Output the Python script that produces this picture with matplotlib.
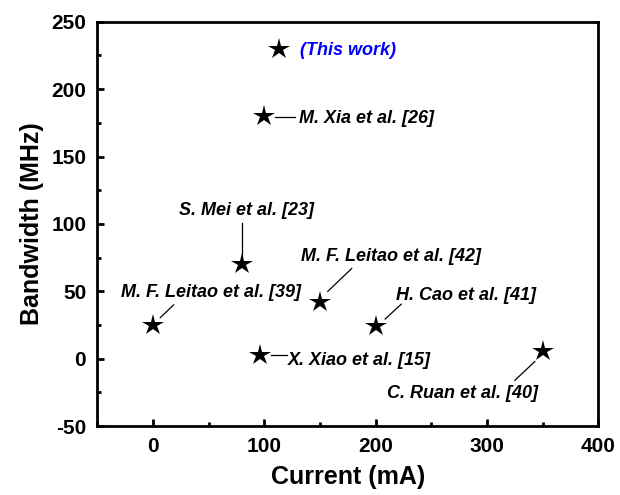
import matplotlib
matplotlib.use('Agg')
import matplotlib.pyplot as plt
from matplotlib.ticker import MultipleLocator

plt.rcParams['font.family'] = ['Liberation Sans', 'DejaVu Sans']
plt.rcParams['axes.unicode_minus'] = False

# data
refs = ['(This work)', 'M. Xia et al. [26]', 'S. Mei et al. [23]',
        'M. F. Leitao et al. [42]', 'M. F. Leitao et al. [39]',
        'H. Cao et al. [41]', 'X. Xiao et al. [15]', 'C. Ruan et al. [40]']
current = [113, 100, 80, 150, 0, 200, 96, 350]
bandwidth = [230, 180, 70, 42, 25, 24, 3, 6]

# label layout: text anchor (x, y), horizontal alignment, leader line ends
label_pos = [(132, 229), (131, 178), (84, 110), (214, 76),
             (52, 49), (281, 47), (121, -1), (278, -26)]
label_ha = ['left', 'left', 'center', 'center',
            'center', 'center', 'left', 'center']
leaders = [None,
           ((110, 128), (179.5, 179.5)),
           ((80, 80), (101, 76)),
           ((157, 178.5), (50, 67)),
           ((6.5, 18.5), (30.5, 40)),
           ((208.5, 223), (29.5, 40.5)),
           ((106, 120), (2.5, 2.5)),
           ((325, 343), (-16, -2))]


def main():
    fig = plt.figure(figsize=(6.2, 4.95), dpi=100)
    ax = fig.add_axes([0.157, 0.139, 0.808, 0.817])

    ax.plot(current, bandwidth, linestyle='none', marker='*',
            markersize=16, color='black', markeredgewidth=0)

    for i, name in enumerate(refs):
        color = 'blue' if i == 0 else 'black'
        ax.text(label_pos[i][0], label_pos[i][1], name, ha=label_ha[i],
                va='center', fontsize=13, fontweight='bold', style='italic',
                color=color)
        if leaders[i] is not None:
            ax.plot(leaders[i][0], leaders[i][1], color='black', lw=0.9)

    ax.set_xlim(-50, 400)
    ax.set_ylim(-50, 250)
    ax.xaxis.set_major_locator(MultipleLocator(100))
    ax.xaxis.set_minor_locator(MultipleLocator(50))
    ax.yaxis.set_major_locator(MultipleLocator(50))
    ax.yaxis.set_minor_locator(MultipleLocator(25))

    ax.tick_params(which='major', direction='in', length=5, width=2,
                   labelsize=15, pad=8)
    ax.tick_params(which='minor', direction='in', length=3, width=2)
    for lab in ax.get_xticklabels() + ax.get_yticklabels():
        lab.set_fontweight('bold')
    for sp in ax.spines.values():
        sp.set_linewidth(2)

    ax.set_xlabel('Current (mA)', fontsize=18, fontweight='bold', labelpad=6)
    ax.set_ylabel('Bandwidth (MHz)', fontsize=18, fontweight='bold', labelpad=5)

    fig.savefig('out.png', dpi=100)


if __name__ == '__main__':
    main()
